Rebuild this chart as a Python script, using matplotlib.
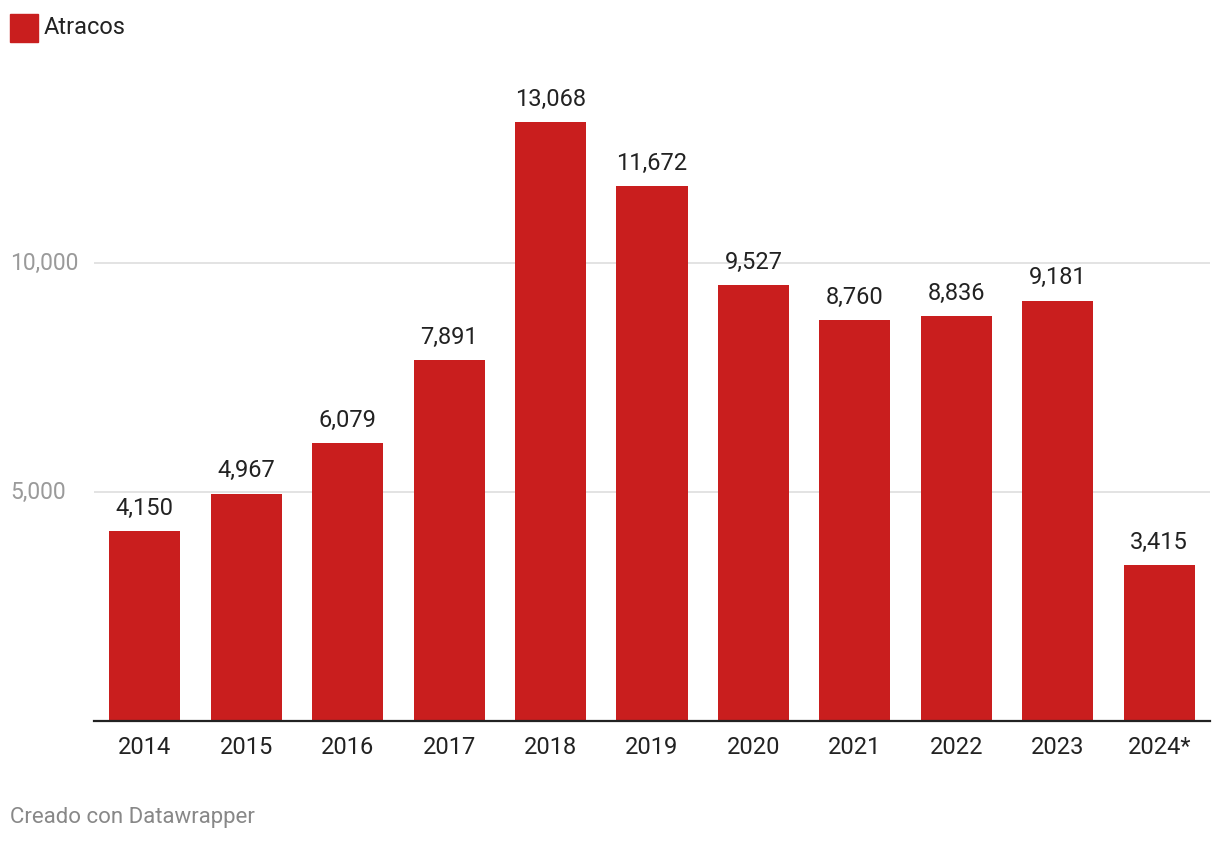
import matplotlib
matplotlib.use("Agg")
import matplotlib.pyplot as plt
from matplotlib.patches import Rectangle

years = ["2014", "2015", "2016", "2017", "2018", "2019", "2020", "2021", "2022", "2023", "2024*"]
atracos = [4150, 4967, 6079, 7891, 13068, 11672, 9527, 8760, 8836, 9181, 3415]
y_ticks = [5000, 10000]

RED = "#c91e1e"
W, H = 1220, 844

plt.rcParams["font.family"] = ["Roboto", "DejaVu Sans"]

fig = plt.figure(figsize=(W / 100, H / 100), dpi=100)

# axes: left 94px, right 1210px, baseline at y=721px, 5000 units = 229px
px_per_unit = 229 / 5000
ymax = 14500
top_px = 721 - ymax * px_per_unit
ax = fig.add_axes([94 / W, (H - 721) / H, (1210 - 94) / W, (721 - top_px) / H])

x = range(len(years))
ax.bar(x, atracos, width=0.70, color=RED, zorder=2)
ax.set_xlim(-0.5, 10.5)
ax.set_ylim(0, ymax)

# value labels above bars
for xi, v in zip(x, atracos):
    ax.annotate(f"{v:,}", (xi, v), xytext=(0, 8), textcoords="offset points",
                ha="center", va="bottom", fontsize=17, color="#222222")

# gridlines
for t in y_ticks:
    ax.axhline(t, color="#e0e0e0", lw=1.3, zorder=1)

ax.set_yticks([])
ax.set_xticks(list(x))
ax.set_xticklabels(years, fontsize=17, color="#222222")
ax.tick_params(axis="x", length=0, pad=11)
for s in ["top", "right", "left"]:
    ax.spines[s].set_visible(False)
ax.spines["bottom"].set_color("#222222")
ax.spines["bottom"].set_linewidth(1.6)

# y tick labels placed left of the axes
for t in y_ticks:
    ax.annotate(f"{t:,}", (0, t), xycoords=("figure pixels", "data"),
                xytext=(10, 0), textcoords="offset pixels",
                ha="left", va="center", fontsize=16.5, color="#9a9a9a")

# legend
fig.patches.append(Rectangle((10 / W, (H - 42) / H), 28 / W, 28 / H,
                             transform=fig.transFigure, color=RED))
fig.text(44 / W, (H - 27) / H, "Atracos", fontsize=17, color="#222222",
         ha="left", va="center")

fig.text(10 / W, (H - 818) / H, "Creado con Datawrapper", fontsize=16,
         color="#888888", ha="left", va="center")

fig.savefig("out.png", dpi=100)
